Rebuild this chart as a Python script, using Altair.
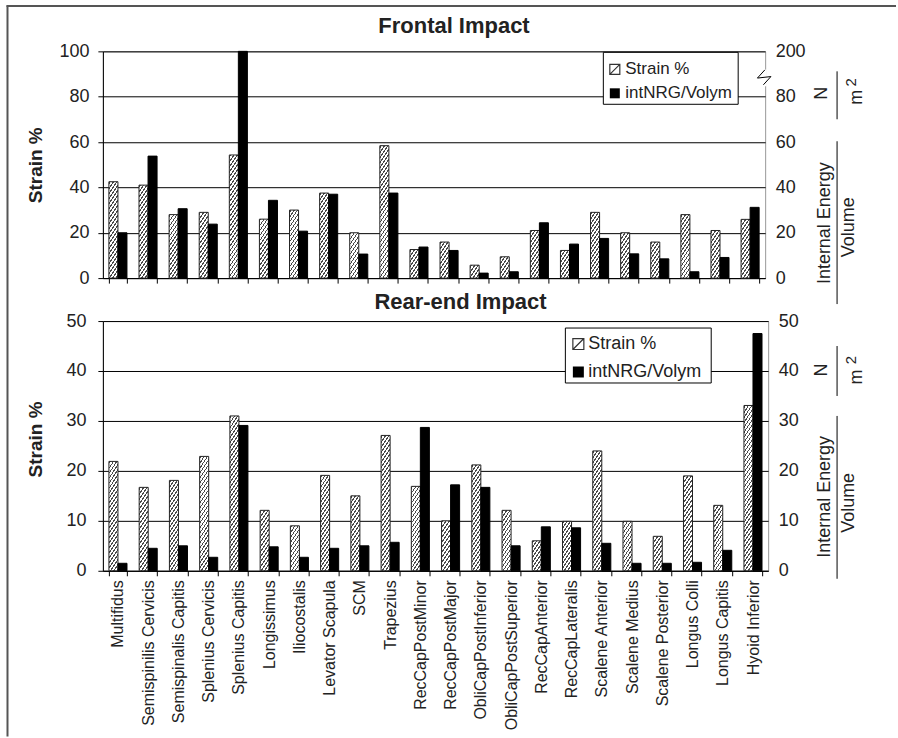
import altair as alt

FONT = "Liberation Sans"
INK = "#222222"

# ---------------- data ----------------
muscles = [
    "Multifidus", "Semispinilis Cervicis", "Semispinalis Capitis", "Splenius Cervicis",
    "Splenius Capitis", "Longissimus", "Iliocostalis", "Levator Scapula", "SCM",
    "Trapezius", "RecCapPostMinor", "RecCapPostMajor", "ObliCapPostInferior",
    "ObliCapPostSuperior", "RecCapAnterior", "RecCapLateralis", "Scalene Anterior",
    "Scalene Medius", "Scalene Posterior", "Longus Colli", "Longus Capitis", "Hyoid Inferior",
]
series = ["Strain %", "intNRG/Volym"]

frontal_strain = [42.5, 41, 28, 29, 54.3, 26, 30, 37.5, 20, 58.4, 12.6, 15.9,
                  5.7, 9.4, 21, 12.2, 29, 20, 15.9, 28, 21, 25.9]
frontal_energy = [20, 53.8, 30.6, 23.8, 200, 34.3, 20.7, 37, 10.6, 37.5, 13.7, 12.2,
                  2.2, 2.8, 24.4, 15, 17.5, 10.7, 8.5, 2.8, 9.1, 31.2]
rear_strain = [21.9, 16.7, 18.1, 22.9, 31, 12.1, 9, 19.1, 15, 27.1, 16.9, 10,
               21.2, 12.1, 6, 9.9, 24, 9.9, 6.9, 19, 13.1, 33.1]
rear_energy = [1.5, 4.5, 5, 2.7, 29.1, 4.8, 2.7, 4.5, 5, 5.7, 28.7, 17.2,
               16.7, 5, 8.8, 8.6, 5.5, 1.5, 1.5, 1.7, 4.1, 47.5]

frontal_ticks = [0, 20, 40, 60, 80, 100]
frontal_right_top_label = "200"   # broken right axis: top tick reads 200
rear_ticks = [0, 10, 20, 30, 40, 50]

# ---------------- layout ----------------
W1, H1 = 663, 227
W2, H2 = 666, 250
PAD_IN, PAD_OUT = 0.4, 0.2


def hatch(w, h, a=1.5, period=5.0, lw=1.9, ink="#4a4a4a", paper="#ffffff"):
    """Diagonal hatch as a hard-stop linear gradient in bar bounding-box units."""
    h = max(h, 1.0)
    cmax = a * w + h
    k = cmax / (a * a * w * w + h * h)
    stops = [{"offset": 0, "color": paper}]
    c = 1.0
    while c < cmax:
        t0 = round(c / cmax, 5)
        t1 = round(min((c + lw) / cmax, 1.0), 5)
        stops += [{"offset": t0, "color": paper}, {"offset": t0, "color": ink},
                  {"offset": t1, "color": ink}, {"offset": t1, "color": paper}]
        c += period
    stops.append({"offset": 1, "color": paper})
    return {"gradient": "linear", "x1": 0, "y1": 0,
            "x2": round(k * a * w, 5), "y2": round(k * h, 5), "stops": stops}


def records(strain, energy, W, H, ymax):
    barw = W / len(muscles) * (1 - PAD_IN) / 2
    s_rec, e_rec = [], []
    for m, s, e in zip(muscles, strain, energy):
        s_rec.append({"muscle": m, "series": series[0], "value": s,
                      "grad": hatch(barw, min(s, ymax) / ymax * H)})
        e_rec.append({"muscle": m, "series": series[1], "value": e})
    return s_rec, e_rec


one = alt.Data(values=[{"_": 0}])


def x_enc(show):
    return alt.X("muscle:N", sort=muscles,
                 scale=alt.Scale(paddingInner=PAD_IN, paddingOuter=PAD_OUT),
                 axis=alt.Axis(title=None, labels=show, labelAngle=270, labelAlign="right",
                               labelBaseline="middle", labelFont=FONT, labelFontSize=16,
                               labelColor=INK, labelPadding=4, labelLimit=400,
                               labelOverlap=False, tickBand="extent", tickSize=5,
                               tickColor="black", domainColor="black", grid=False))


xoff = alt.XOffset("series:N", scale=alt.Scale(domain=series, paddingInner=0, paddingOuter=0))


def left_axis(ticks, label_pad, title_y):
    return alt.Axis(orient="left", values=ticks, title="Strain %", grid=True,
                    gridColor="black", gridWidth=1, gridOpacity=1, domainColor="black",
                    tickColor="black", tickSize=5, labelFont=FONT, labelFontSize=18,
                    labelColor=INK, labelPadding=label_pad, titleFont=FONT,
                    titleFontSize=19, titleFontWeight="bold", titleColor=INK,
                    titleAngle=270, titleX=-67, titleY=title_y, titleAlign="center",
                    titleBaseline="middle")


def right_axis(ticks, expr=None):
    kw = dict(orient="right", values=ticks, title=None, grid=False, domain=False,
              ticks=False, labelFont=FONT, labelFontSize=18, labelColor=INK,
              labelPadding=10)
    if expr:
        kw["labelExpr"] = expr
    return alt.Axis(**kw)


def txt(text, x, y, size=18, angle=0, align="center", baseline="middle", weight="normal"):
    mk = dict(text=text, font=FONT, fontSize=size, color=INK, align=align,
              baseline=baseline, fontWeight=weight)
    if angle:
        mk["angle"] = angle
    return alt.Chart(one).mark_text(**mk).encode(x=alt.value(x), y=alt.value(y))


def vrule(x, y1, y2, color="black", width=1):
    return alt.Chart(one).mark_rule(color=color, strokeWidth=width).encode(
        x=alt.value(x), y=alt.value(y1), y2=alt.value(y2))


def hrule(y, x1, x2, color="black", width=1):
    return alt.Chart(one).mark_rule(color=color, strokeWidth=width).encode(
        y=alt.value(y), x=alt.value(x1), x2=alt.value(x2))


def legend(box, sym_x, ys, sym_size, text_x, font_size):
    x1, x2, y1, y2 = box
    layers = [alt.Chart(one).mark_rect(fill="white", stroke="black", strokeWidth=1).encode(
        x=alt.value(x1), x2=alt.value(x2), y=alt.value(y1), y2=alt.value(y2))]
    layers.append(alt.Chart(one).mark_point(
        shape="M-1,-1H1V1H-1Z M-1,1L1,-1", filled=False, stroke="#333333",
        strokeWidth=1.2, size=sym_size, opacity=1).encode(x=alt.value(sym_x), y=alt.value(ys[0])))
    layers.append(alt.Chart(one).mark_square(size=sym_size, color="black", opacity=1).encode(
        x=alt.value(sym_x), y=alt.value(ys[1])))
    for s, y in zip(series, ys):
        layers.append(txt(s, text_x, y, size=font_size, align="left"))
    return layers


def energy_annotation(n_y, nm_rule, ie_y, ie_rule, vol_y, m_y, two_y):
    return [
        txt("N", 720, n_y, angle=270),
        vrule(735, nm_rule[0], nm_rule[1]),
        txt("m", 755, m_y, angle=270),
        txt("2", 749, two_y, size=15, angle=270),
        txt("Internal Energy", 723, ie_y, angle=270),
        vrule(735, ie_rule[0], ie_rule[1]),
        txt("Volume", 747, vol_y, angle=270),
    ]


# ---------------- top panel: frontal ----------------
fs, fe = records(frontal_strain, frontal_energy, W1, H1, 100)
top_strain = alt.Chart(alt.Data(values=fs)).mark_bar(stroke=INK, strokeWidth=1).encode(
    x=x_enc(False), xOffset=xoff,
    y=alt.Y("value:Q", stack=None, scale=alt.Scale(domain=[0, 100], nice=False),
            axis=left_axis(frontal_ticks, 9, H1 / 2)),
    fill=alt.Fill("grad:N", scale=None),
)
top_energy = alt.Chart(alt.Data(values=fe)).mark_bar(color="black", stroke="black", strokeWidth=1).encode(
    x=x_enc(False), xOffset=xoff,
    y=alt.Y("value:Q", stack=None, scale=alt.Scale(domain=[0, 100], nice=False, clamp=True),
            axis=right_axis(frontal_ticks,
                            "datum.value == 100 ? '%s' : datum.label" % frontal_right_top_label)),
)
top_layers = [top_strain, top_energy]
top_layers += legend((501, 636, 1, 53), 512.5, (18, 42), 100, 523, 17)
top_layers += energy_annotation(42, (20, 68), 172, (90, 253), 176, 46, 31)
# axis break symbol on the right axis
top_layers.append(vrule(W1, 18, 35, color="white", width=3))
top_layers.append(alt.Chart(one).mark_point(
    shape="M0.1,-1L-0.9,0.1L0.9,-0.1L-0.1,1", filled=False, stroke="black",
    strokeWidth=1, size=225, opacity=1).encode(x=alt.value(W1 - 1), y=alt.value(26)))
top_layers.append(txt("Frontal Impact", W1 / 2 + 20, -18, size=22, baseline="alphabetic", weight="bold"))
# outer frame
top_layers.append(vrule(-95.5, -46, 686, color="#555555", width=2))
top_layers.append(hrule(-45.5, -96.5, 794, color="#555555", width=2))

top = alt.layer(*top_layers).resolve_scale(y="independent").properties(width=W1, height=H1)

# ---------------- bottom panel: rear-end ----------------
rs, re_ = records(rear_strain, rear_energy, W2, H2, 50)
bot_strain = alt.Chart(alt.Data(values=rs)).mark_bar(stroke=INK, strokeWidth=1).encode(
    x=x_enc(True), xOffset=xoff,
    y=alt.Y("value:Q", stack=None, scale=alt.Scale(domain=[0, 50], nice=False),
            axis=left_axis(rear_ticks, 12, 118)),
    fill=alt.Fill("grad:N", scale=None),
)
bot_energy = alt.Chart(alt.Data(values=re_)).mark_bar(color="black", stroke="black", strokeWidth=1).encode(
    x=x_enc(True), xOffset=xoff,
    y=alt.Y("value:Q", stack=None, scale=alt.Scale(domain=[0, 50], nice=False, clamp=True),
            axis=right_axis(rear_ticks)),
)
bot_layers = [bot_strain, bot_energy]
bot_layers += legend((463, 609, 7, 62), 476, (23, 51), 121, 486, 18)
bot_layers += energy_annotation(49, (25, 75), 176, (95, 258), 182, 56, 39)
bot_layers.append(txt("Rear-end Impact", W2 / 2 + 25, -12, size=22, baseline="alphabetic", weight="bold"))

bottom = alt.layer(*bot_layers).resolve_scale(y="independent").properties(width=W2, height=H2)

chart = alt.vconcat(top, bottom, spacing=43, bounds="flush").properties(
    padding={"left": 5, "top": 3, "right": 0, "bottom": 0},
    background="white",
).configure_view(stroke="#999999", strokeWidth=1)

chart.save("out.html", embed_options={"renderer": "svg", "actions": False})
